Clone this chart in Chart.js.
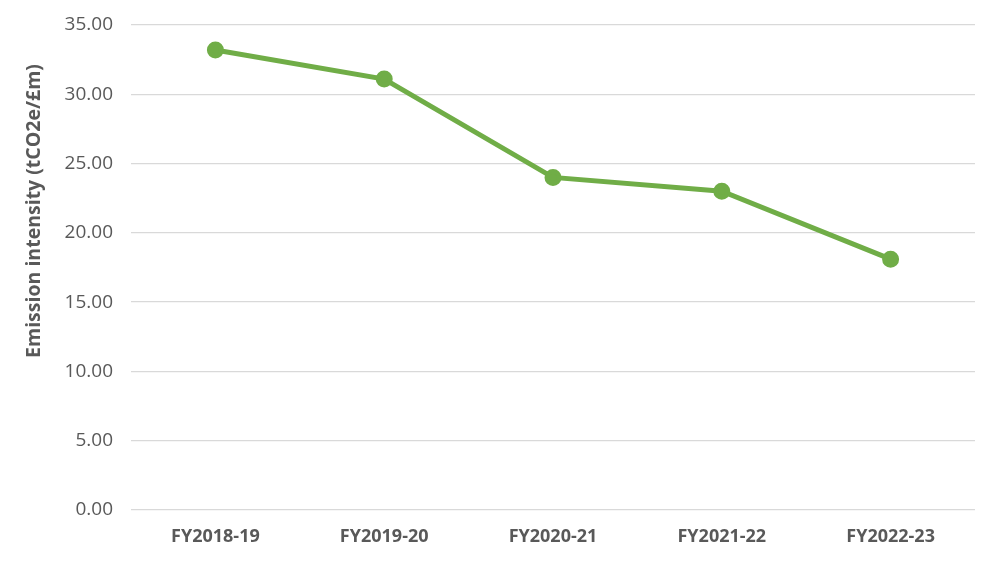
<!DOCTYPE html>
<html><head><meta charset="utf-8">
<script src="https://cdn.jsdelivr.net/npm/chart.js@4"></script>
<style>html,body{margin:0;padding:0;background:#fff}#w{width:1000px;height:564px}</style>
</head><body><div id="w"><canvas id="c"></canvas></div>
<script>
const categories = ["FY2018-19","FY2019-20","FY2020-21","FY2021-22","FY2022-23"];
const intensity = [33.2, 31.1, 24.0, 23.0, 18.1];
const yTicks = [0,5,10,15,20,25,30,35];
const yTitle = "Emission intensity (tCO2e/£m)";

const yTitlePlugin = {
  id: 'yTitle',
  afterDraw(chart) {
    const ctx = chart.ctx;
    ctx.save();
    ctx.translate(34, 211);
    ctx.rotate(-Math.PI / 2);
    ctx.font = 'bold 19.5px "Open Sans"';
    ctx.fillStyle = '#595959';
    ctx.textAlign = 'center';
    ctx.textBaseline = 'middle';
    ctx.fillText(yTitle, 0, 0);
    ctx.restore();
  }
};

new Chart(document.getElementById('c'), {
  type: 'line',
  data: { labels: categories, datasets: [{
    data: intensity, borderColor: '#70AD47', backgroundColor: '#70AD47',
    borderWidth: 5, pointRadius: 6, pointHoverRadius: 6, tension: 0 }] },
  plugins: [yTitlePlugin],
  options: {
    responsive: true, maintainAspectRatio: false, animation: false,
    layout: { padding: { top: 25, right: 25, bottom: 0, left: 0 } },
    plugins: { legend: { display: false }, tooltip: { enabled: false } },
    scales: {
      x: { offset: true,
        grid: { display: false, drawTicks: false },
        border: { display: false },
        ticks: { color: '#595959', padding: 16, font: { family: 'Open Sans', size: 18, weight: 'bold' } },
        afterFit: s => { s.height = 54; } },
      y: { min: 0, max: 35,
        afterBuildTicks: s => { s.ticks = yTicks.map(v => ({ value: v })); },
        grid: { color: '#d9d9d9', lineWidth: 1.3, drawTicks: false },
        border: { display: false },
        ticks: { color: '#595959', padding: 18, font: { family: 'Open Sans', size: 19, lineHeight: 1 },
          callback: v => Number(v).toFixed(2) },
        title: { display: false },
        afterFit: s => { s.width = 131; s.paddingTop = 0; s.paddingBottom = 0; } }
    }
  }
});
</script></body></html>
